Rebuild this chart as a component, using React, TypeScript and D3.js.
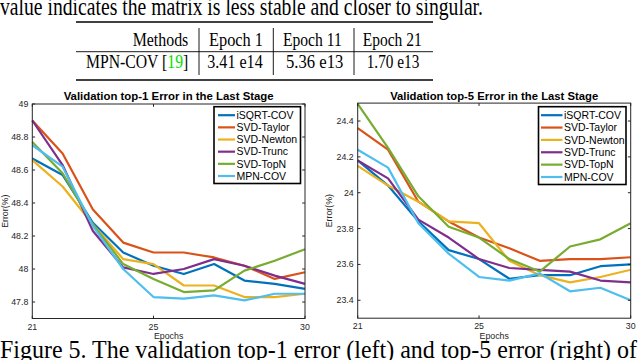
import React from 'react';
import * as d3 from 'd3';

const epochs = [21, 22, 23, 24, 25, 26, 27, 28, 29, 30];
const methods = ['iSQRT-COV', 'SVD-Taylor', 'SVD-Newton', 'SVD-Trunc', 'SVD-TopN', 'MPN-COV'];
const colors = ['#0072BD', '#D95319', '#EDB120', '#7E2F8E', '#77AC30', '#4DBEEE'];

// top-1 error
const top1iSQRT = [48.67, 48.57, 48.28, 48.10, 48.02, 47.97, 48.03, 47.93, 47.91, 47.88];
const top1Taylor = [48.90, 48.70, 48.36, 48.16, 48.10, 48.10, 48.07, 48.02, 47.94, 47.98];
const top1Newton = [48.66, 48.50, 48.27, 48.06, 48.03, 47.90, 47.90, 47.83, 47.83, 47.85];
const top1Trunc = [48.90, 48.63, 48.23, 48.01, 47.97, 48.00, 48.06, 48.02, 47.96, 47.91];
const top1TopN = [48.77, 48.58, 48.27, 48.03, 47.94, 47.86, 47.87, 47.99, 48.05, 48.12];
const top1MPN = [48.75, 48.62, 48.26, 48.00, 47.83, 47.82, 47.84, 47.81, 47.85, 47.85];

// top-5 error
const top5iSQRT = [24.18, 24.04, 23.84, 23.68, 23.63, 23.52, 23.54, 23.54, 23.59, 23.60];
const top5Taylor = [24.36, 24.24, 23.95, 23.84, 23.75, 23.69, 23.62, 23.63, 23.63, 23.64];
const top5Newton = [24.15, 24.04, 23.95, 23.84, 23.83, 23.62, 23.54, 23.50, 23.53, 23.57];
const top5Trunc = [24.18, 24.08, 23.85, 23.75, 23.63, 23.58, 23.57, 23.56, 23.51, 23.50];
const top5TopN = [24.495, 24.25, 23.98, 23.81, 23.75, 23.63, 23.56, 23.70, 23.74, 23.83];
const top5MPN = [24.24, 24.14, 23.83, 23.66, 23.53, 23.51, 23.55, 23.45, 23.47, 23.40];

const top1Series = [top1iSQRT, top1Taylor, top1Newton, top1Trunc, top1TopN, top1MPN];
const top5Series = [top5iSQRT, top5Taylor, top5Newton, top5Trunc, top5TopN, top5MPN];

const xTicks = [21, 25, 30];
const top1YTicks = [47.8, 48, 48.2, 48.4, 48.6, 48.8, 49];
const top5YTicks = [23.4, 23.6, 23.8, 24, 24.2, 24.4];

const tableHeader = ['Methods', 'Epoch 1', 'Epoch 11', 'Epoch 21'];
const tableRow = ['3.41 e14', '5.36 e13', '1.70 e13'];

const SANS = '"Liberation Sans", Arial, Helvetica, sans-serif';
const SERIF = '"Liberation Serif", "Times New Roman", serif';
const AX = '#262626';

type ChartProps = {
  x0: number; x1: number; y0: number; y1: number;
  domain: [number, number];
  yTicks: number[];
  series: number[][];
  title: string;
  titleLen: number;
  legendBox: [number, number, number, number];
  sampleX: [number, number];
  labelX: number;
};

function Chart(p: ChartProps) {
  const x = d3.scaleLinear().domain([21, 30]).range([p.x0, p.x1]);
  const y = d3.scaleLinear().domain(p.domain).range([p.y1, p.y0]);
  const line = d3.line<number>().x((_, i) => x(epochs[i])).y((d) => y(d));
  const fmt = (v: number) => d3.format('~g')(v);
  const tl = 2.8;
  const [lx0, ly0, lx1, ly1] = p.legendBox;
  const rowH = (ly1 - ly0 - 16) / 5;
  return (
    <g>
      <text x={(p.x0 + p.x1) / 2} y={100} textAnchor="middle" fontFamily={SANS} fontWeight="bold"
        fontSize={10.5} fill="#000" textLength={p.titleLen} lengthAdjust="spacingAndGlyphs">{p.title}</text>
      <rect x={p.x0} y={p.y0} width={p.x1 - p.x0} height={p.y1 - p.y0} fill="#fff" />
      {p.series.map((s, i) => (
        <path key={i} d={line(s) || ''} fill="none" stroke={colors[i]} strokeWidth={2.2}
          strokeLinejoin="round" />
      ))}
      <rect x={p.x0} y={p.y0} width={p.x1 - p.x0} height={p.y1 - p.y0} fill="none" stroke={AX} strokeWidth={1} />
      {p.yTicks.map((t) => (
        <g key={t}>
          <line x1={p.x0} x2={p.x0 + tl} y1={y(t)} y2={y(t)} stroke={AX} />
          <line x1={p.x1} x2={p.x1 - tl} y1={y(t)} y2={y(t)} stroke={AX} />
          <text x={p.x0 - 4} y={y(t) + 3} textAnchor="end" fontFamily={SANS} fontSize={8.8} fill={AX}>{fmt(t)}</text>
        </g>
      ))}
      {xTicks.map((t) => (
        <g key={t}>
          <line x1={x(t)} x2={x(t)} y1={p.y1} y2={p.y1 - tl} stroke={AX} />
          <line x1={x(t)} x2={x(t)} y1={p.y0} y2={p.y0 + tl} stroke={AX} />
          <text x={x(t)} y={p.y1 + 11} textAnchor="middle" fontFamily={SANS} fontSize={8.8} fill={AX}>{t}</text>
        </g>
      ))}
      <text x={(p.x0 + p.x1) / 2} y={p.y1 + 20.5} textAnchor="middle" fontFamily={SANS} fontSize={8.8} fill={AX}>Epochs</text>
      <text transform={`translate(${p.labelX},${(p.y0 + p.y1) / 2}) rotate(-90)`} textAnchor="middle"
        fontFamily={SANS} fontSize={8.8} fill={AX}>Error(%)</text>
      <rect x={lx0} y={ly0} width={lx1 - lx0} height={ly1 - ly0} fill="#fff" stroke="#000" strokeWidth={1.6} />
      {methods.map((m, i) => {
        const yy = ly0 + 8.5 + i * rowH;
        return (
          <g key={m}>
            <line x1={p.sampleX[0]} x2={p.sampleX[1]} y1={yy} y2={yy} stroke={colors[i]} strokeWidth={2.2} />
            <text x={p.sampleX[1] + 1.5} y={yy + 3.8} fontFamily={SANS} fontSize={10.5} fill="#000">{m}</text>
          </g>
        );
      })}
    </g>
  );
}

export default function App() {
  return (
    <svg width={640} height={360} style={{ position: 'absolute', left: 0, top: 0, background: '#fff' }}>
      <rect width={640} height={360} fill="#fff" />
      <text x={0} y={15} fontFamily={SERIF} fontSize={25} fill="#000" textLength={483}
        lengthAdjust="spacingAndGlyphs">value indicates the matrix is less stable and closer to singular.</text>
      {/* table */}
      <line x1={76} x2={433} y1={22} y2={22} stroke="#000" strokeWidth={1.5} />
      <line x1={76} x2={433} y1={51.7} y2={51.7} stroke="#000" strokeWidth={0.9} />
      <line x1={76} x2={433} y1={80} y2={80} stroke="#000" strokeWidth={1.5} />
      {[199, 273.3, 354].map((vx) => (
        <line key={vx} x1={vx} x2={vx} y1={28} y2={75} stroke="#000" strokeWidth={0.9} />
      ))}
      {tableHeader.map((h, i) => {
        const pos = [[132.7, 55.6], [209, 54], [283, 58.7], [362.7, 59]][i];
        return (
          <text key={h} x={pos[0]} y={45.7} fontFamily={SERIF} fontSize={19} fill="#000"
            textLength={pos[1]} lengthAdjust="spacingAndGlyphs">{h}</text>
        );
      })}
      <text x={86} y={68.3} fontFamily={SERIF} fontSize={19} fill="#000" textLength={102.3}
        lengthAdjust="spacingAndGlyphs">MPN-COV [<tspan fill="#00e000">19</tspan>]</text>
      {tableRow.map((v, i) => {
        const pos = [[207.3, 55.4], [286, 57.3], [366.7, 52.6]][i];
        return (
          <text key={v} x={pos[0]} y={68.3} fontFamily={SERIF} fontSize={19} fill="#000"
            textLength={pos[1]} lengthAdjust="spacingAndGlyphs">{v}</text>
        );
      })}
      <Chart x0={32.3} x1={305} y0={104} y1={318.5} domain={[47.7, 49]} yTicks={top1YTicks}
        series={top1Series} title="Validation top-1 Error in the Last Stage" titleLen={210}
        legendBox={[214, 106.7, 300.5, 183.5]} sampleX={[218, 235]} labelX={8} />
      <Chart x0={357.7} x1={630.7} y0={103.1} y1={318.2} domain={[23.3, 24.5]} yTicks={top5YTicks}
        series={top5Series} title="Validation top-5 Error in the Last Stage" titleLen={208}
        legendBox={[538.5, 106.7, 626, 184.5]} sampleX={[541, 562.5]} labelX={332} />
      <text x={0} y={358} fontFamily={SERIF} fontSize={26} fill="#000" textLength={637}
        lengthAdjust="spacingAndGlyphs">Figure 5. The validation top-1 error (left) and top-5 error (right) of</text>
    </svg>
  );
}
